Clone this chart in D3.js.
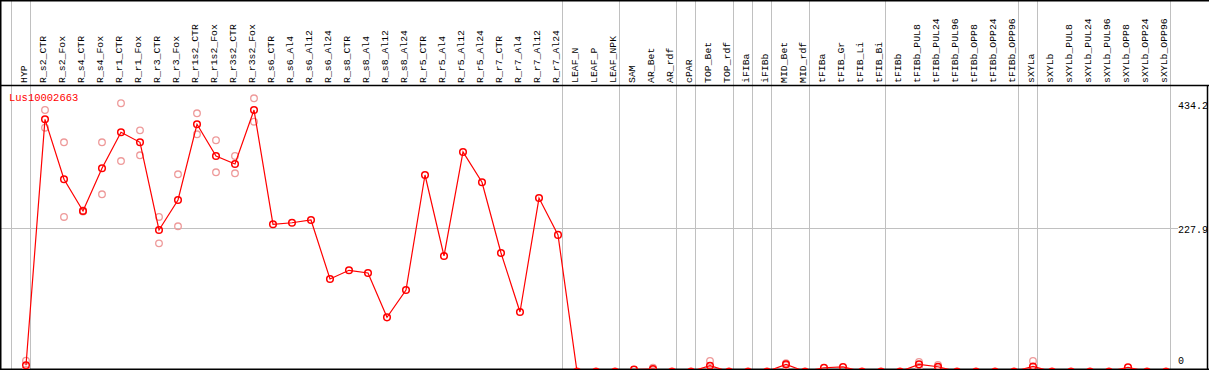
<!DOCTYPE html>
<html>
<head>
<meta charset="utf-8">
<script src="https://cdn.jsdelivr.net/npm/d3@7"></script>
<style>
  body { margin: 0; background: #fff; }
  svg { display: block; }
</style>
</head>
<body>
<div id="chart"></div>
<script>
// DATA
const geneName = 'Lus10002663';

const categories = [
    'HYP',
    'R_s2_CTR', 'R_s2_Fox', 'R_s4_CTR', 'R_s4_Fox', 'R_r1_CTR', 'R_r1_Fox', 'R_r3_CTR', 'R_r3_Fox',
    'R_r1s2_CTR', 'R_r1s2_Fox', 'R_r3s2_CTR', 'R_r3s2_Fox',
    'R_s6_CTR', 'R_s6_Al4', 'R_s6_Al12', 'R_s6_Al24', 'R_s8_CTR', 'R_s8_Al4', 'R_s8_Al12', 'R_s8_Al24',
    'R_r5_CTR', 'R_r5_Al4', 'R_r5_Al12', 'R_r5_Al24', 'R_r7_CTR', 'R_r7_Al4', 'R_r7_Al12', 'R_r7_Al24',
    'LEAF_N', 'LEAF_P', 'LEAF_NPK',
    'SAM', 'AR_Bet', 'AR_rdf',
    'cPAR',
    'TOP_Bet', 'TOP_rdf',
    'iFIBa',
    'iFIBb',
    'MID_Bet', 'MID_rdf',
    'tFIBa', 'tFIB_Gr', 'tFIB_Li', 'tFIB_Bi',
    'tFIBb', 'tFIBb_PUL8', 'tFIBb_PUL24', 'tFIBb_PUL96', 'tFIBb_OPP8', 'tFIBb_OPP24', 'tFIBb_OPP96',
    'sXYLa',
    'sXYLb', 'sXYLb_PUL8', 'sXYLb_PUL24', 'sXYLb_PUL96', 'sXYLb_OPP8', 'sXYLb_OPP24', 'sXYLb_OPP96'
];

// first sample of each tissue group (grey separators)
const groupStarts = ['HYP', 'R_s2_CTR', 'LEAF_N', 'SAM', 'cPAR', 'TOP_Bet', 'iFIBa', 'iFIBb',
    'MID_Bet', 'tFIBa', 'tFIBb', 'sXYLa', 'sXYLb'];

// mean expression
const meanValues = [
    9.9,
    400.8, 305.5, 255.1, 323.0, 380.2, 364.3, 224.9, 272.6,
    392.9, 342.5, 329.8, 415.6,
    234.0, 236.4, 240.8, 147.0, 160.8, 156.5, 86.1, 129.5,
    312.3, 183.6, 348.9, 300.7, 188.4, 94.6, 275.7, 217.1,
    0, 0, 0,
    3, 4, 0,
    0,
    9.2, 0,
    0,
    0,
    11.4, 0,
    6, 7.2, 0, 0,
    0, 11.4, 7.6, 0, 0, 0, 0,
    8,
    0, 0, 0, 0, 6.7, 0, 0
];

// replicates (null = none shown)
const rep1Values = [
    17.2,
    415.6, 364.3, 256.0, 364.3, 426.3, 383.3, 245.6, 313.4,
    410.4, 367.5, 342.5, 434.2,
    null, null, null, null, null, null, null, null,
    null, null, null, null, null, null, null, null,
    null, null, null,
    null, 6, null,
    null,
    16.7, null,
    null,
    null,
    13, null,
    null, null, null, null,
    null, 15.1, 10.3, null, null, null, null,
    16.7,
    null, null, null, null, null, null, null
];
const rep2Values = [
    2.6,
    387.5, 245.6, 254.2, 281.6, 334.5, 343.6, 203.7, 230.8,
    377.0, 316.6, 315.0, 397.0,
    null, null, null, null, null, null, null, null,
    null, null, null, null, null, null, null, null,
    null, null, null,
    null, 2, null,
    null,
    1.7, null,
    null,
    null,
    9.8, null,
    null, null, null, null,
    null, 7.7, 4.9, null, null, null, null,
    0,
    null, null, null, null, null, null, null
];

const yTicks = [0, 227.9, 434.2];
const refLine = 227.9;

// SETTINGS
const width = 1209, height = 370;
const headerBottom = 85, plotBottom = 369, rightEdge = 1207;
const colors = { mean: '#ff0000', rep: '#ee9a9a', grid: '#c0c0c0', frame: '#000' };
const monoFont = '"Liberation Mono", "DejaVu Sans Mono", monospace';

const svg = d3.select('#chart').append('svg')
    .attr('width', width)
    .attr('height', height);

const x = d3.scaleBand()
    .domain(categories)
    .range([11, 1170])
    .padding(0);
const pointX = c => x(c) + 15;

const y = d3.scaleLinear()
    .domain([0, 434.2])
    .range([371.5, 98.3]);

svg.append('defs').append('clipPath')
    .attr('id', 'plot-clip')
    .append('rect')
    .attr('x', 0).attr('y', headerBottom)
    .attr('width', width).attr('height', plotBottom - headerBottom);

// grey group separators
const sepX = groupStarts.map(c => x(c)).concat([x.range()[1]]);
svg.append('g').selectAll('line')
    .data(sepX)
    .join('line')
    .attr('x1', d => d + 0.5).attr('x2', d => d + 0.5)
    .attr('y1', 0).attr('y2', plotBottom)
    .attr('stroke', colors.grid)
    .attr('stroke-width', 1);

// reference line
svg.append('line')
    .attr('x1', 0).attr('x2', 1178)
    .attr('y1', Math.round(y(refLine)) + 0.5).attr('y2', Math.round(y(refLine)) + 0.5)
    .attr('stroke', colors.grid);

// frame
svg.append('line').attr('x1', 0).attr('x2', width).attr('y1', 0.5).attr('y2', 0.5)
    .attr('stroke', colors.frame).attr('stroke-width', 2);
svg.append('line').attr('x1', 0).attr('x2', width).attr('y1', headerBottom + 0.5).attr('y2', headerBottom + 0.5)
    .attr('stroke', colors.frame).attr('stroke-width', 1.5);
svg.append('line').attr('x1', 0).attr('x2', width).attr('y1', plotBottom + 0.5).attr('y2', plotBottom + 0.5)
    .attr('stroke', colors.frame).attr('stroke-width', 2);
svg.append('line').attr('x1', 0.5).attr('x2', 0.5).attr('y1', 0).attr('y2', height)
    .attr('stroke', colors.frame).attr('stroke-width', 2);
svg.append('line').attr('x1', rightEdge + 0.5).attr('x2', rightEdge + 0.5).attr('y1', headerBottom).attr('y2', plotBottom)
    .attr('stroke', colors.frame).attr('stroke-width', 1.5);

// column labels
svg.append('g').selectAll('text')
    .data(categories)
    .join('text')
    .attr('transform', d => `translate(${pointX(d) + 1}, 83) rotate(-90)`)
    .attr('font-family', monoFont)
    .attr('font-size', '9.8px')
    .attr('fill', '#000')
    .text(d => d);

// y labels
svg.append('g').selectAll('text')
    .data(yTicks)
    .join('text')
    .attr('x', 1178)
    .attr('y', d => Math.min(Math.max(y(d) + 5, 109), 364.3))
    .attr('font-family', monoFont)
    .attr('font-size', '10px')
    .attr('fill', '#000')
    .text(d => d);

// gene name
svg.append('text')
    .attr('x', 9).attr('y', 100.5)
    .attr('font-family', monoFont)
    .attr('font-size', '10.5px')
    .attr('fill', colors.mean)
    .text(geneName);

const plot = svg.append('g').attr('clip-path', 'url(#plot-clip)');

// replicates
const reps = [];
categories.forEach((c, i) => {
    [rep1Values[i], rep2Values[i]].forEach(v => {
        if (v !== null) reps.push({ c, v });
    });
});
plot.append('g').selectAll('circle')
    .data(reps)
    .join('circle')
    .attr('cx', d => pointX(d.c))
    .attr('cy', d => y(d.v))
    .attr('r', 3.3)
    .attr('fill', 'none')
    .attr('stroke', colors.rep)
    .attr('stroke-width', 1.3);

// mean line
const means = categories.map((c, i) => ({ c, v: meanValues[i] }));
const line = d3.line()
    .x(d => pointX(d.c))
    .y(d => y(d.v));
plot.append('path')
    .datum(means)
    .attr('d', line)
    .attr('fill', 'none')
    .attr('stroke', colors.mean)
    .attr('stroke-width', 1.2);

plot.append('g').selectAll('circle')
    .data(means)
    .join('circle')
    .attr('cx', d => pointX(d.c))
    .attr('cy', d => y(d.v))
    .attr('r', 3.3)
    .attr('fill', 'none')
    .attr('stroke', colors.mean)
    .attr('stroke-width', 1.5);
</script>
</body>
</html>
